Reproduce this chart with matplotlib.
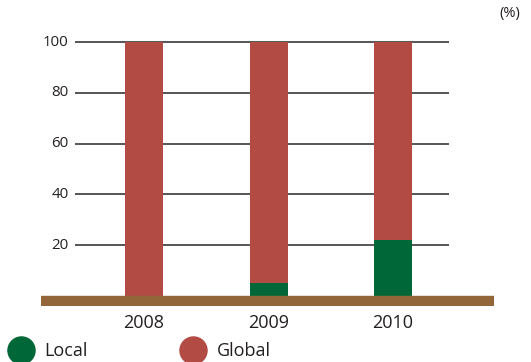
import matplotlib
matplotlib.use("Agg")
import matplotlib.pyplot as plt
from matplotlib.lines import Line2D

plt.rcParams['font.family'] = ['Open Sans', 'DejaVu Sans']

# Share of sourcing by year (%)
years = ["2008", "2009", "2010"]
local = [0, 5, 22]
global_share = [100, 95, 78]
y_ticks = [20, 40, 60, 80, 100]

RED = "#B34B45"
GREEN = "#006838"
BROWN = "#93663A"
TEXT = "#231F20"
GRID = "#555555"

W, H = 531, 362
fig = plt.figure(figsize=(W / 100, H / 100), dpi=100)

# axes in pixel terms: left 41, right 494, bottom 306, top 40
left, right, bottom, top = 41, 494, 306, 40
ax = fig.add_axes([left / W, (H - bottom) / H, (right - left) / W, (bottom - top) / H])

px_per_unit = (296 - 42) / 100.0
ymin = -(bottom - 296) / px_per_unit
ymax = 100 + (42 - top) / px_per_unit
ax.set_ylim(ymin, ymax)

x = list(range(len(years)))
spacing = 124.5
x_left = -(144 - left) / spacing
x_right = 2 + (right - 393) / spacing
ax.set_xlim(x_left, x_right)

bar_w = 38 / spacing
ax.bar(x, local, width=bar_w, color=GREEN, zorder=3)
ax.bar(x, global_share, width=bar_w, bottom=local, color=RED, zorder=3)

# horizontal reference lines
g0 = (74.7 - 144) / spacing
g1 = (449 - 144) / spacing
for t in y_ticks:
    ax.hlines(t, g0, g1, color=GRID, linewidth=1.4, zorder=1)
    ax.text(g0 - 6 / spacing, t, str(t), ha="right", va="center",
            fontsize=10.8, color=TEXT)

# ground band
ax.axhspan(ymin, 0, color=BROWN, zorder=4)

for xi, yr in zip(x, years):
    ax.text(xi, -10.8, yr, ha="center", va="center", fontsize=13,
            color=TEXT, clip_on=False)

ax.axis("off")

fig.text(509.5 / W, 1 - 14 / H, "(%)", ha="center", va="center",
         fontsize=10.5, color=TEXT)

# legend
for cx, tx, col, label in [(20.5, 44, GREEN, "Local"), (193, 217, RED, "Global")]:
    fig.add_artist(Line2D([cx / W], [1 - 350 / H], marker="o", markersize=19.5,
                          markerfacecolor=col, markeredgecolor=col,
                          linestyle="none", transform=fig.transFigure))
    fig.text(tx / W, 1 - 350.5 / H, label, ha="left", va="center",
             fontsize=13, color=TEXT)

fig.savefig("out.png", dpi=100)
